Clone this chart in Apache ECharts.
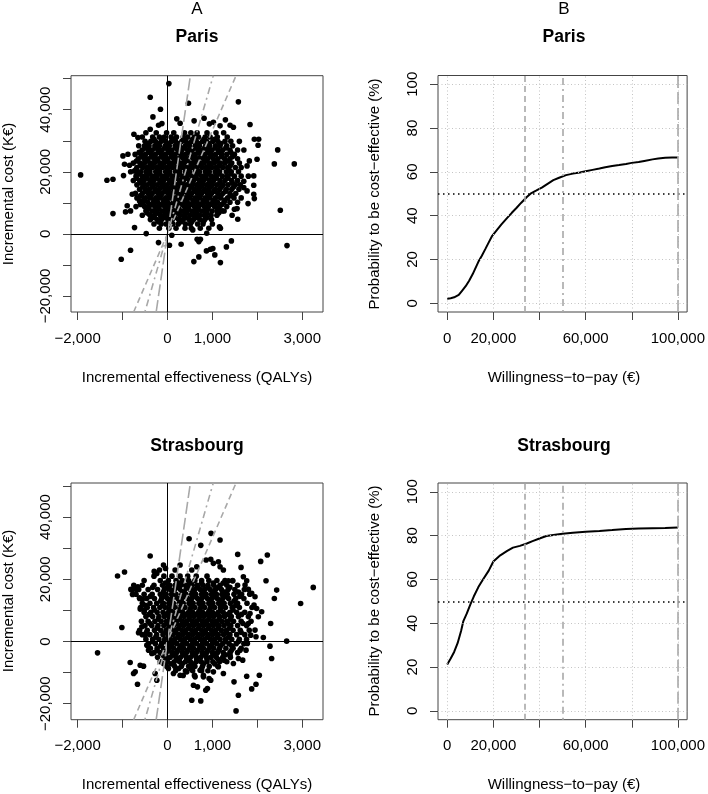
<!DOCTYPE html>
<html>
<head>
<meta charset="utf-8">
<script src="https://cdn.jsdelivr.net/npm/echarts@6/dist/echarts.min.js"></script>
<style>
  html, body { margin: 0; padding: 0; background: #fff; }
  #chart { width: 708px; height: 794px; }
</style>
</head>
<body>
<div id="chart"></div>
<script>
// axis ticks and labels
const effTicks = [-2000, -1000, 0, 1000, 2000, 3000];
const effLabels = [-2000, 0, 1000, 3000];
const costTicks = [-20000, -10000, 0, 10000, 20000, 30000, 40000, 50000];
const costLabels = [-20000, 0, 20000, 40000];
const wtpTicks = [0, 20000, 40000, 60000, 80000, 100000];
const wtpLabels = [0, 20000, 60000, 100000];
const probTicks = [0, 20, 40, 60, 80, 100];
const thresholds = [33400, 50000, 100000];

// Paris: cloud read row by row (y, then x values), plus scattered points
const parisRows = [
  [32600, [-480, -250, -20, 140, 380, 520, 660, 880, 1080, 1250]],
  [31200, [-560, -330, -180, -70, 80, 200, 350, 450, 600, 690, 840, 950, 1110, 1330]],
  [29800, [-500, -370, -270, -140, -40, 90, 180, 320, 410, 540, 640, 780, 870, 1010, 1120, 1280, 1410, 1600]],
  [28400, [-640, -510, -410, -280, -180, -50, 40, 170, 270, 400, 490, 620, 710, 850, 940, 1070, 1170, 1320, 1450]],
  [27000, [-560, -430, -340, -210, -120, 10, 100, 230, 320, 450, 550, 680, 760, 900, 990, 1130, 1230, 1390, 1560, 1700]],
  [25600, [-720, -590, -490, -360, -270, -140, -50, 80, 170, 310, 400, 530, 620, 750, 840, 970, 1070, 1210, 1320, 1490]],
  [24200, [-650, -520, -430, -300, -210, -80, 10, 140, 230, 360, 450, 580, 670, 800, 890, 1020, 1120, 1270, 1390, 1560]],
  [22800, [-760, -610, -510, -380, -290, -160, -70, 60, 150, 280, 370, 500, 590, 720, 810, 940, 1040, 1180, 1280, 1430, 1600]],
  [21400, [-680, -550, -460, -330, -240, -110, -20, 110, 200, 330, 420, 550, 640, 770, 860, 990, 1090, 1230, 1340, 1510, 1640]],
  [20000, [-820, -600, -480, -390, -260, -170, -40, 50, 180, 270, 400, 490, 620, 710, 840, 930, 1060, 1160, 1310, 1420, 1580]],
  [18600, [-700, -560, -470, -340, -250, -120, -30, 100, 190, 320, 410, 540, 630, 760, 850, 980, 1080, 1220, 1330, 1490, 1640, 1800]],
  [17200, [-760, -620, -520, -390, -300, -170, -80, 50, 140, 270, 360, 490, 580, 710, 800, 930, 1030, 1170, 1280, 1430, 1560]],
  [15800, [-680, -540, -450, -320, -230, -100, -10, 120, 210, 340, 430, 560, 650, 780, 870, 1000, 1100, 1240, 1350, 1510, 1620]],
  [14400, [-620, -490, -400, -270, -180, -50, 40, 170, 260, 390, 480, 610, 700, 830, 920, 1060, 1160, 1310, 1430, 1590]],
  [13000, [-560, -430, -340, -210, -120, 10, 100, 230, 320, 450, 540, 670, 760, 890, 980, 1120, 1230, 1390, 1520]],
  [11600, [-680, -490, -390, -260, -170, -40, 50, 180, 270, 400, 490, 620, 710, 840, 930, 1070, 1180, 1340, 1480, 1640]],
  [10200, [-440, -310, -220, -90, 0, 130, 220, 350, 440, 570, 660, 790, 880, 1010, 1110, 1260, 1390, 1560]],
  [8800, [-700, -510, -410, -280, -190, -60, 30, 160, 250, 380, 470, 600, 690, 820, 910, 1050, 1160, 1320]],
  [7400, [-480, -340, -250, -120, -30, 100, 190, 320, 410, 540, 630, 760, 850, 990, 1100, 1260]],
  [6000, [-560, -390, -290, -160, -70, 60, 150, 280, 370, 500, 590, 720, 820, 970, 1100]],
  [4600, [-380, -230, -130, 10, 110, 250, 350, 480, 580, 720, 830, 980]],
  [3200, [-300, -140, -30, 120, 240, 400, 510, 670, 790, 1000]],
  [1800, [-180, 30, 190, 390, 530, 730, 920]]
];
// in-between rows of the dense Paris core
const parisFill = [
  [30500, [-300, -90, 130, 370, 560, 810, 1050]],
  [29100, [-450, -220, 0, 230, 460, 700, 920, 1190]],
  [27700, [-500, -270, -60, 190, 370, 610, 830, 1060, 1300]],
  [26300, [-630, -410, -180, 30, 250, 480, 690, 900, 1140, 1410]],
  [24900, [-560, -350, -130, 90, 300, 520, 740, 960, 1200, 1450]],
  [23500, [-690, -450, -230, -20, 210, 420, 650, 870, 1090, 1350]],
  [22100, [-600, -390, -170, 50, 270, 490, 700, 920, 1150, 1400]],
  [20700, [-700, -430, -210, 0, 230, 450, 660, 890, 1110, 1370]],
  [19300, [-620, -400, -180, 40, 260, 470, 690, 910, 1140, 1410]],
  [17900, [-690, -450, -230, -10, 210, 430, 640, 860, 1090, 1350]],
  [16500, [-600, -380, -160, 60, 280, 500, 710, 930, 1170, 1440]],
  [15100, [-550, -340, -130, 90, 300, 520, 730, 960, 1200, 1470]],
  [13700, [-500, -280, -60, 150, 370, 590, 800, 1030, 1290]],
  [12300, [-600, -370, -150, 70, 290, 510, 730, 950, 1190, 1420]],
  [10900, [-520, -300, -80, 140, 360, 570, 800, 1020, 1280]],
  [9500, [-600, -350, -130, 90, 310, 530, 740, 960, 1210]],
  [8100, [-420, -190, 30, 250, 460, 680, 900, 1130]],
  [6700, [-450, -220, 0, 220, 430, 650, 880, 1140]],
  [5300, [-300, -60, 170, 400, 640, 880]],
  [3900, [-200, 50, 300, 540, 800]]
];
const parisOuter = [
  [31, 48400], [-384, 44030], [467, 42100], [1578, 42530], [-156, 40160], [-324, 37680],
  [207, 37050], [281, 35660], [593, 36410], [815, 37270], [933, 35440], [1022, 35980],
  [1170, 34800], [1289, 36730], [1393, 35010], [1467, 34370], [-124, 35520], [-198, 35010],
  [-384, 33720], [1837, 35230], [-747, 32110], [-658, 31010], [1933, 30500], [2030, 30500],
  [2016, 28560], [2453, 27050], [2378, 22540], [2822, 22540], [1993, 24060], [1822, 23510],
  [1771, 21900], [-991, 25120], [-880, 25670], [-956, 22450], [-844, 22130], [-1933, 19000],
  [-1347, 17290], [-1213, 17610], [-978, 18780], [1920, 18680], [1920, 15680], [1920, 12790],
  [1933, 11370], [1793, 9760], [2511, 7630], [1698, 16970], [1698, 14910], [1771, 13850],
  [1564, 4730], [1438, 6020], [1489, 7950], [1549, 8150], [-784, 12790], [-711, 13110],
  [-896, 9050], [-933, 7090], [-822, 7410], [-1213, 6540], [-733, 2030], [-473, 100],
  [-584, 12240], [-622, 10630], [-547, 10080], [-200, -2800], [-822, -5250], [-1029, -8150],
  [44, -3640], [304, -3320], [587, -8920], [660, -1700], [698, -2480], [733, -1700],
  [867, -5470], [956, -4930], [1009, -4730], [1053, -6760], [1178, -9240], [698, -7400],
  [1311, -4190], [1422, -2250], [2660, -3770], [1156, 2250], [1178, 1840], [1216, 7410],
  [563, 1290], [874, 215], [96, -430], [-733, 20290], [-680, 19970]
];

// Strasbourg
const strasRows = [
  [21000, [-300, -80, 100, 280, 450, 640, 880]],
  [19600, [-520, -160, 20, 190, 330, 470, 610, 760, 920, 1100, 1280, 1450]],
  [18100, [-750, -560, -300, -110, 50, 170, 310, 420, 550, 660, 790, 900, 1030, 1170, 1320, 1560]],
  [16700, [-780, -640, -430, -220, -70, 60, 160, 290, 390, 510, 610, 730, 830, 950, 1070, 1200, 1350, 1500, 1710]],
  [15200, [-700, -520, -340, -160, -30, 90, 190, 320, 410, 540, 630, 760, 860, 980, 1090, 1210, 1330, 1480, 1650, 1830]],
  [13800, [-620, -460, -290, -130, 0, 100, 230, 320, 450, 540, 670, 760, 890, 990, 1110, 1230, 1360, 1520, 1700]],
  [12300, [-560, -390, -240, -90, 30, 130, 260, 350, 480, 570, 700, 790, 920, 1010, 1140, 1260, 1400, 1560, 1770]],
  [10900, [-600, -450, -310, -170, -50, 70, 170, 300, 390, 520, 610, 740, 830, 960, 1050, 1180, 1290, 1440, 1600, 1880]],
  [9400, [-520, -370, -230, -100, 20, 120, 250, 340, 470, 560, 690, 780, 910, 1000, 1130, 1240, 1390, 1540, 1720]],
  [8000, [-480, -330, -190, -70, 50, 150, 280, 370, 500, 590, 720, 810, 940, 1030, 1160, 1270, 1420, 1580, 1800]],
  [6500, [-580, -430, -280, -140, -20, 100, 200, 330, 420, 550, 640, 770, 860, 990, 1080, 1210, 1320, 1470, 1640, 1860]],
  [5100, [-500, -350, -210, -80, 40, 140, 270, 360, 490, 580, 710, 800, 930, 1020, 1150, 1260, 1410, 1560, 1760]],
  [3600, [-620, -450, -290, -150, -30, 90, 190, 320, 410, 540, 630, 760, 850, 980, 1070, 1200, 1310, 1460, 1620, 1820]],
  [2200, [-560, -390, -240, -100, 20, 120, 250, 340, 470, 560, 690, 780, 910, 1000, 1130, 1250, 1390, 1540, 1720]],
  [700, [-480, -330, -190, -60, 60, 160, 290, 380, 510, 600, 730, 820, 950, 1040, 1170, 1290, 1430, 1600, 1760]],
  [-700, [-420, -270, -130, 0, 110, 210, 340, 430, 560, 650, 780, 870, 1000, 1100, 1230, 1370, 1530, 1700]],
  [-2200, [-380, -230, -90, 40, 140, 270, 360, 490, 580, 710, 800, 930, 1030, 1160, 1300, 1460, 1640]],
  [-3600, [-300, -160, -30, 100, 200, 330, 420, 550, 640, 770, 870, 1000, 1110, 1240, 1390, 1560]],
  [-5100, [-220, -70, 60, 190, 290, 420, 510, 640, 740, 870, 970, 1090, 1230, 1400]],
  [-6500, [-160, 0, 150, 270, 400, 510, 640, 750, 880, 1010, 1160, 1320]],
  [-8000, [-20, 160, 310, 470, 610, 780, 930, 1120]],
  [-9400, [180, 400, 560, 760, 900]],
  [-10900, [350, 600, 800]]
];
// in-between rows of the dense Strasbourg core
const strasFill = [
  [18800, [-50, 240, 500, 760, 1020, 1240]],
  [17400, [-330, 0, 230, 450, 680, 900, 1130, 1390]],
  [15900, [-90, 130, 350, 580, 800, 1020, 1270, 1580]],
  [14500, [-380, -60, 160, 380, 600, 820, 1050, 1300, 1610]],
  [13000, [-150, 70, 300, 520, 740, 960, 1200, 1480]],
  [11600, [-490, -110, 110, 330, 550, 770, 990, 1230, 1520]],
  [10100, [-290, 60, 280, 500, 720, 940, 1180, 1460]],
  [8700, [-410, -20, 200, 420, 640, 860, 1080, 1340, 1650]],
  [7200, [-200, 50, 260, 480, 700, 920, 1150, 1400]],
  [5800, [-390, -10, 210, 430, 650, 870, 1100, 1350, 1680]],
  [4300, [-230, 30, 250, 470, 690, 910, 1130, 1380]],
  [2900, [-470, -40, 180, 400, 620, 840, 1070, 1320, 1640]],
  [1400, [-260, 10, 230, 450, 670, 890, 1110, 1360]],
  [0, [-330, -70, 160, 380, 600, 820, 1050, 1300, 1580]],
  [-1400, [-150, 70, 290, 510, 730, 950, 1180, 1430]],
  [-2900, [-230, 10, 230, 450, 670, 900, 1140, 1420]],
  [-4300, [-100, 130, 350, 570, 790, 1020, 1290]],
  [-5800, [-20, 210, 430, 650, 880, 1130]],
  [-7200, [80, 330, 560, 800, 1050]],
  [-8700, [250, 520, 760]]
];
const strasOuter = [
  [-1556, -3650], [-1111, 21030], [-956, 22320], [-1015, 4510], [-385, 27470], [481, 33050],
  [741, 30900], [970, 34770], [1170, 32620], [1563, 28000], [2222, 27790], [2074, 25750],
  [3244, 17380], [2963, 12230], [2652, 107], [2430, 16520], [2378, 13840], [2193, 19530],
  [2296, 5800], [2281, -1500], [2318, -5470], [2044, -10840], [1970, -13730], [1874, -15240],
  [1578, -17280], [1526, -22320], [1481, -12980], [1763, -11160], [541, -18880], [741, -19100],
  [852, -15670], [889, -15130], [578, -14060], [667, -14590], [926, -11910], [963, -12450],
  [-667, -13730], [-830, -6760], [-755, -10300], [-718, -9770], [-607, -7620], [-533, -7940],
  [-274, -10300], [-237, -12450], [-815, 16740], [-696, 16740], [-778, 15130], [-622, 14060],
  [-556, 13630], [-659, 17600], [-511, 10090], [-607, 10410], [-570, 4720], [-644, 2790],
  [-496, 2040], [-459, -1180], [-422, -2790], [-348, -3860], [-296, 22530], [-237, 21890],
  [-178, 22960], [-89, 24570], [-44, 23500], [281, 24570], [170, 22960], [652, 24030],
  [541, 22960], [859, 26180], [963, 26400], [1022, 25110], [1133, 25650], [1170, 24030],
  [1244, 22960], [1356, 19530], [1452, 19420], [1637, 23820], [1689, 20820], [1763, 19530],
  [1726, 18130], [1800, 16740], [1874, 15450], [1948, 14380], [1985, 10620], [2022, 7940],
  [2096, 9550], [1926, 11700], [1837, 9010], [1800, 5790], [1948, 3650], [1970, 1500],
  [2133, 1290], [1852, 2040], [1778, -640], [1748, -2790], [1615, -2790], [1578, -5470],
  [1674, -6010], [1393, -4400], [1259, -6010], [1467, -7080], [1133, -8150], [1022, -9760],
  [1244, -10300], [726, -9230], [800, -11370], [615, -11370], [430, -9760], [281, -10840],
  [133, -10300], [22, -8690], [-89, -7080]
];

// acceptability curves
const parisWtp = [0, 1500, 3000, 5000, 6500, 8000, 9500, 11000, 12000, 13500, 15000, 16500, 18000, 19500,
  21500, 23500, 26000, 28000, 30000, 32000, 34500, 36500, 38500, 41000, 43000, 46000, 48500, 51500,
  54500, 57500, 60000, 63000, 66000, 68500, 71500, 74500, 77500, 80000, 83000, 86000, 89000, 91500,
  94500, 97500, 100000];
const parisProb = [2.1, 2.3, 2.7, 3.8, 5.8, 7.8, 10.3, 13.2, 15.5, 18.9, 21.7, 24.7, 27.8, 30.8,
  33.4, 36.0, 39.0, 41.3, 43.5, 45.8, 48.5, 50.3, 51.4, 52.8, 54.2, 56.2, 57.3, 58.5,
  59.2, 59.7, 60.3, 60.9, 61.5, 62.1, 62.7, 63.1, 63.6, 64.1, 64.5, 65.1, 65.7, 66.1,
  66.4, 66.5, 66.5];
const strasWtp = [0, 1500, 3000, 4500, 6000, 7000, 8500, 10000, 11500, 13500, 15500, 18000, 20000,
  23000, 26000, 28500, 31500, 34500, 37000, 40000, 43000, 46000, 50000, 54500, 60000, 66000,
  71500, 77500, 83000, 89000, 94500, 100000];
const strasProb = [21.2, 23.9, 26.9, 30.9, 36.5, 41.0, 44.5, 48.5, 52.2, 56.5, 60.0, 64.0, 68.2,
  71.0, 73.0, 74.5, 75.3, 76.4, 77.5, 78.7, 79.8, 80.3, 80.8, 81.3, 81.8, 82.1,
  82.5, 83.0, 83.2, 83.4, 83.5, 83.7];

const FONT = "'Liberation Sans', Arial, Helvetica, sans-serif";
const EFF_RANGE = [-2147, 3461];
const COST_RANGE = [-25150, 50950];
const GREY = '#a8a8a8';
const DASHES = [[6, 4], [2, 4, 7, 4], [12, 4]];

function rowsToPoints(rows) {
  const pts = [];
  rows.forEach(([y, xs]) => xs.forEach(x => pts.push([x, y])));
  return pts;
}
function fmt(v) {
  return (v < 0 ? '\u2212' : '') + Math.abs(v).toLocaleString('en-US');
}

const chart = echarts.init(document.getElementById('chart'));

const grids = [
  { left: 71, top: 75.7, width: 252, height: 236.3 },
  { left: 438, top: 75.5, width: 251.7, height: 236.5 },
  { left: 71, top: 483, width: 252, height: 236.7 },
  { left: 438, top: 483, width: 251.7, height: 236.7 }
].map(g => Object.assign({ show: true, borderColor: '#444', borderWidth: 1, containLabel: false }, g));

function xAxis(grid, range, ticks, labels) {
  return {
    gridIndex: grid, type: 'value', min: range[0], max: range[1],
    axisLine: { show: false, onZero: false },
    splitLine: { show: false },
    axisTick: { show: true, length: 8, customValues: ticks, lineStyle: { color: '#444' } },
    axisLabel: { customValues: labels, formatter: fmt, fontSize: 15, fontFamily: FONT, color: '#000', margin: 19 }
  };
}
function yAxis(grid, range, ticks, labels) {
  return {
    gridIndex: grid, type: 'value', min: range[0], max: range[1],
    axisLine: { show: false, onZero: false },
    splitLine: { show: false },
    axisTick: { show: true, length: 8, customValues: ticks, lineStyle: { color: '#444' } },
    axisLabel: { customValues: labels, formatter: fmt, rotate: 90, fontSize: 15, fontFamily: FONT, color: '#000', margin: 18 }
  };
}

function planeSeries(idx, points) {
  const list = [{
    type: 'scatter', xAxisIndex: idx, yAxisIndex: idx, data: points,
    symbolSize: 5.6, itemStyle: { color: '#000', opacity: 1 }, z: 2, silent: true,
    markLine: {
      silent: true, symbol: ['none', 'none'], label: { show: false },
      lineStyle: { color: '#000', type: 'solid', width: 1 },
      data: [{ xAxis: 0 }, { yAxis: 0 }]
    }
  }];
  thresholds.forEach((t, i) => {
    const s = t / 1000;
    list.push({
      type: 'line', xAxisIndex: idx, yAxisIndex: idx, showSymbol: false, silent: true, z: 4,
      data: [[COST_RANGE[0] / s, COST_RANGE[0]], [COST_RANGE[1] / s, COST_RANGE[1]]],
      lineStyle: { color: GREY, width: 1.6, type: DASHES[i] }
    });
  });
  return list;
}

function ceacSeries(idx, xs, ys) {
  const grid = wtpTicks.map(v => ({ xAxis: v })).concat(probTicks.map(v => ({ yAxis: v })));
  const marks = grid.map(d => Object.assign(d, { lineStyle: { color: '#c4c4c4', type: [1, 2.5], width: 1 } }));
  marks.push({ yAxis: 50, lineStyle: { color: '#000', type: [1.5, 3.5], width: 1.6 } });
  thresholds.forEach((t, i) => marks.push({ xAxis: t, lineStyle: { color: GREY, type: DASHES[i], width: 1.6 } }));
  return [{
    type: 'line', xAxisIndex: idx, yAxisIndex: idx, showSymbol: false, silent: true, z: 3,
    data: xs.map((x, i) => [x, ys[i]]),
    lineStyle: { color: '#000', width: 2 },
    markLine: { silent: true, symbol: ['none', 'none'], label: { show: false }, data: marks }
  }];
}

function text(x, y, t, size, weight, rot) {
  return {
    type: 'text', x: x, y: y, rotation: rot || 0, silent: true,
    style: {
      text: t, fill: '#000', font: (weight || 'normal') + ' ' + size + 'px ' + FONT,
      align: 'center', verticalAlign: 'middle', textAlign: 'center', textVerticalAlign: 'middle'
    }
  };
}

const xName = 'Incremental effectiveness (QALYs)';
const wName = 'Willingness\u2212to\u2212pay (\u20ac)';
const yName = 'Incremental cost (K\u20ac)';
const pName = 'Probability to be cost\u2212effective (%)';

chart.setOption({
  animation: false,
  backgroundColor: '#fff',
  grid: grids,
  xAxis: [
    xAxis(0, EFF_RANGE, effTicks, effLabels),
    xAxis(1, [-4000, 104000], wtpTicks, wtpLabels),
    xAxis(2, EFF_RANGE, effTicks, effLabels),
    xAxis(3, [-4000, 104000], wtpTicks, wtpLabels)
  ],
  yAxis: [
    yAxis(0, COST_RANGE, costTicks, costLabels),
    yAxis(1, [-4, 104], probTicks, probTicks),
    yAxis(2, COST_RANGE, costTicks, costLabels),
    yAxis(3, [-4, 104], probTicks, probTicks)
  ],
  series: [].concat(
    planeSeries(0, rowsToPoints(parisRows).concat(rowsToPoints(parisFill), parisOuter)),
    ceacSeries(1, parisWtp, parisProb),
    planeSeries(2, rowsToPoints(strasRows).concat(rowsToPoints(strasFill), strasOuter)),
    ceacSeries(3, strasWtp, strasProb)
  ),
  graphic: [
    text(197, 9.5, 'A', 17),
    text(564, 9.5, 'B', 17),
    text(197, 37.5, 'Paris', 17.5, 'bold'),
    text(564, 37.5, 'Paris', 17.5, 'bold'),
    text(197, 446, 'Strasbourg', 17.5, 'bold'),
    text(564, 446, 'Strasbourg', 17.5, 'bold'),
    text(197, 377.5, xName, 15),
    text(564, 377.5, wName, 15),
    text(197, 785, xName, 15),
    text(564, 785, wName, 15),
    text(8.5, 194, yName, 15, 'normal', Math.PI / 2),
    text(374.5, 194, pName, 15, 'normal', Math.PI / 2),
    text(8.5, 601, yName, 15, 'normal', Math.PI / 2),
    text(374.5, 601, pName, 15, 'normal', Math.PI / 2)
  ]
});
</script>
</body>
</html>
